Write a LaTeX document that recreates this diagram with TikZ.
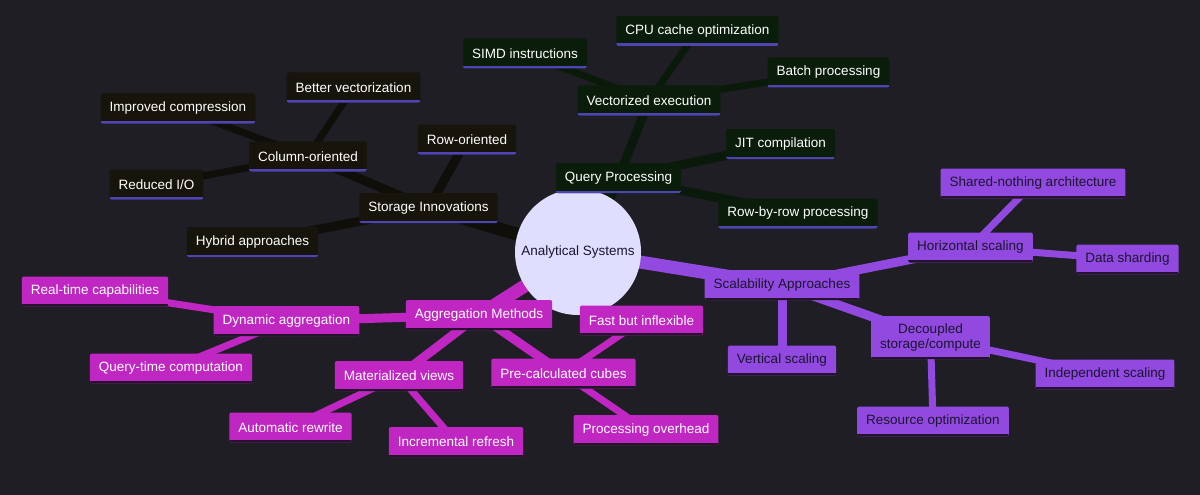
\documentclass[tikz,border=0pt]{standalone}
\usepackage{fontspec}
\setmainfont{Liberation Sans}
\usetikzlibrary{positioning}
\definecolor{bgcol}{HTML}{1F1E25}
\definecolor{rootfill}{HTML}{E0DEFF}
\definecolor{inkdark}{HTML}{1A1530}
\definecolor{storfill}{HTML}{16140B}
\definecolor{storedge}{HTML}{0F0E08}
\definecolor{quefill}{HTML}{0A1C0A}
\definecolor{queedge}{HTML}{0A1A0A}
\definecolor{aggfill}{HTML}{C026C2}
\definecolor{scalfill}{HTML}{9249E0}
\definecolor{lineblue}{HTML}{4E45B2}
\definecolor{linedark}{HTML}{25132E}
\pgfdeclarelayer{backdrop}
\pgfdeclarelayer{edges}
\pgfsetlayers{backdrop,edges,main}
\tikzset{mmnode/.style={rectangle, rounded corners=2pt, minimum height=30pt,
           inner xsep=9pt, inner ysep=4pt, font=\fontsize{13.5}{15.5}\selectfont,
           align=center,
           path picture={\draw[line width=5pt, #1]
             (path picture bounding box.south west) --
             (path picture bounding box.south east);}},
         mmnode/.default={lineblue},
         stornode/.style={mmnode, fill=storfill, text=white},
         quenode/.style={mmnode, fill=quefill, text=white},
         aggnode/.style={mmnode=linedark, fill=aggfill, text=white},
         scalnode/.style={mmnode=linedark, fill=scalfill, text=inkdark},
         trunk/.style={line width=13pt},
         bough/.style={line width=9pt},
         twig/.style={line width=7pt}}

\begin{document}
\begin{tikzpicture}[x=1pt, y=-1pt]
  \begin{pgfonlayer}{backdrop}
    \fill[bgcol] (0,0) rectangle (1200,495);
  \end{pgfonlayer}
  \useasboundingbox (0,0) rectangle (1200,495);

  \node[circle, fill=rootfill, minimum size=126pt, inner sep=0pt,
        font=\fontsize{13.5}{15.5}\selectfont, text=inkdark] (root) at (578,252) {Analytical Systems};

  \node[stornode] (storage) at (428.5,208) {Storage Innovations};
  \node[stornode] (column) at (308,156.5) {Column-oriented};
  \node[stornode] (roworient) at (467,139.5) {Row-oriented};
  \node[stornode] (hybrid) at (252.5,242) {Hybrid approaches};
  \node[stornode] (compress) at (178,108.5) {Improved compression};
  \node[stornode] (bettervec) at (353.5,87.5) {Better vectorization};
  \node[stornode] (reducedio) at (156.5,184.5) {Reduced I/O};

  \node[quenode] (query) at (618.5,178) {Query Processing};
  \node[quenode] (vecexec) at (649,100.5) {Vectorized execution};
  \node[quenode] (simd) at (525,53.5) {SIMD instructions};
  \node[quenode] (cpucache) at (697.5,31) {CPU cache optimization};
  \node[quenode] (batch) at (828.5,72.5) {Batch processing};
  \node[quenode] (jit) at (780.5,144) {JIT compilation};
  \node[quenode] (rowbyrow) at (798,213.5) {Row-by-row processing};

  \node[aggnode] (aggr) at (479,315) {Aggregation Methods};
  \node[aggnode] (dynagg) at (286.5,321) {Dynamic aggregation};
  \node[aggnode] (realtime) at (95,291.5) {Real-time capabilities};
  \node[aggnode] (querytime) at (171,368.5) {Query-time computation};
  \node[aggnode] (matviews) at (399,376) {Materialized views};
  \node[aggnode] (autorewrite) at (290.5,427.5) {Automatic rewrite};
  \node[aggnode] (increfresh) at (456,442) {Incremental refresh};
  \node[aggnode] (precalc) at (563.5,373.5) {Pre-calculated cubes};
  \node[aggnode] (fastinflex) at (641.5,320.5) {Fast but inflexible};
  \node[aggnode] (procoverhead) at (646,430) {Processing overhead};

  \node[scalnode] (scal) at (782,285) {Scalability Approaches};
  \node[scalnode] (horiz) at (970.5,247.5) {Horizontal scaling};
  \node[scalnode] (sharednothing) at (1033,183.5) {Shared-nothing architecture};
  \node[scalnode] (sharding) at (1127.5,259.5) {Data sharding};
  \node[scalnode] (vertical) at (782,360.5) {Vertical scaling};
  \node[scalnode, minimum height=43pt] (decoupled) at (930.5,337.5) {Decoupled\\storage/compute};
  \node[scalnode] (independent) at (1105,374.5) {Independent scaling};
  \node[scalnode] (resopt) at (933,421.5) {Resource optimization};

  \begin{pgfonlayer}{edges}
    \begin{scope}[storedge]
      \draw[trunk] (root.center) -- (storage.center);
      \draw[bough] (storage.center) -- (column.center);
      \draw[bough] (storage.center) -- (roworient.center);
      \draw[bough] (storage.center) -- (hybrid.center);
      \draw[twig] (column.center) -- (compress.center);
      \draw[twig] (column.center) -- (bettervec.center);
      \draw[twig] (column.center) -- (reducedio.center);
    \end{scope}
    \begin{scope}[queedge]
      \draw[trunk] (root.center) -- (query.center);
      \draw[bough] (query.center) -- (vecexec.center);
      \draw[bough] (query.center) -- (jit.center);
      \draw[bough] (query.center) -- (rowbyrow.center);
      \draw[twig] (vecexec.center) -- (simd.center);
      \draw[twig] (vecexec.center) -- (cpucache.center);
      \draw[twig] (vecexec.center) -- (batch.center);
    \end{scope}
    \begin{scope}[aggfill]
      \draw[trunk] (root.center) -- (aggr.center);
      \draw[bough] (aggr.center) -- (dynagg.center);
      \draw[bough] (aggr.center) -- (matviews.center);
      \draw[bough] (aggr.center) -- (precalc.center);
      \draw[twig] (dynagg.center) -- (realtime.center);
      \draw[twig] (dynagg.center) -- (querytime.center);
      \draw[twig] (matviews.center) -- (autorewrite.center);
      \draw[twig] (matviews.center) -- (increfresh.center);
      \draw[twig] (precalc.center) -- (fastinflex.center);
      \draw[twig] (precalc.center) -- (procoverhead.center);
    \end{scope}
    \begin{scope}[scalfill]
      \draw[trunk] (root.center) -- (scal.center);
      \draw[bough] (scal.center) -- (horiz.center);
      \draw[bough] (scal.center) -- (vertical.center);
      \draw[bough] (scal.center) -- (decoupled.center);
      \draw[twig] (horiz.center) -- (sharednothing.center);
      \draw[twig] (horiz.center) -- (sharding.center);
      \draw[twig] (decoupled.center) -- (independent.center);
      \draw[twig] (decoupled.center) -- (resopt.center);
    \end{scope}
  \end{pgfonlayer}
\end{tikzpicture}
\end{document}
